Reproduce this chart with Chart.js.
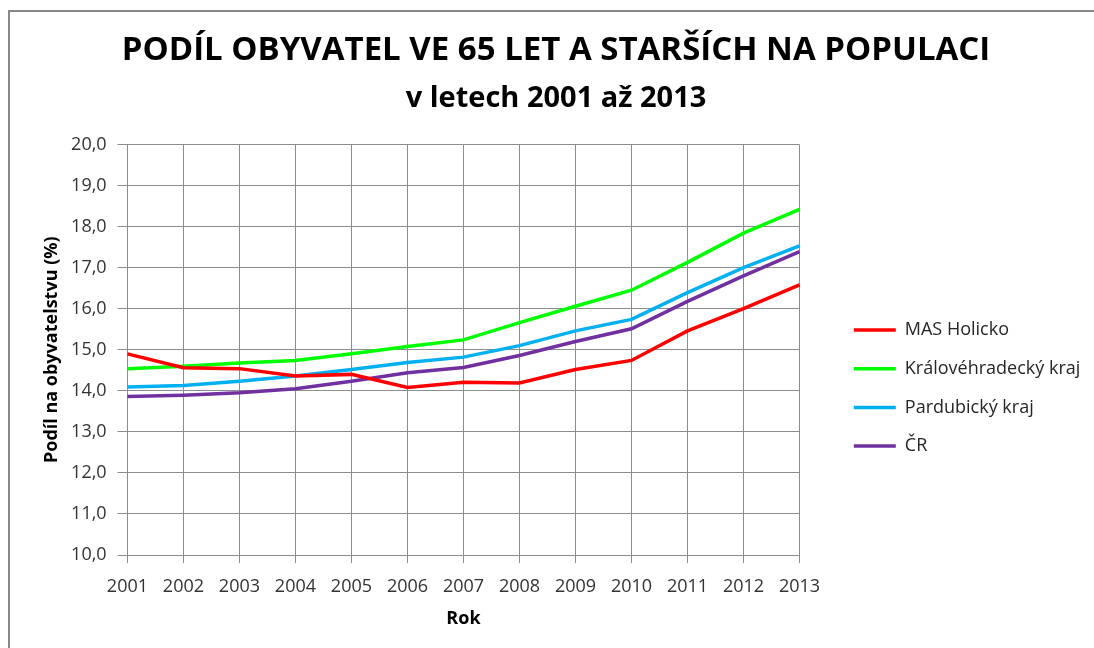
<!DOCTYPE html>
<html>
<head>
<meta charset="utf-8">
<script src="https://cdn.jsdelivr.net/npm/chart.js@4.4.1/dist/chart.umd.min.js"></script>
<style>
  html, body { margin: 0; padding: 0; background: #ffffff; }
  #wrap { position: absolute; left: 0; top: 0; width: 1094px; height: 648px; }
</style>
</head>
<body>
<div id="wrap"><canvas id="c" width="1094" height="648"></canvas></div>
<script>
const years = ['2001','2002','2003','2004','2005','2006','2007','2008','2009','2010','2011','2012','2013'];
const masHolicko = [14.90, 14.56, 14.54, 14.36, 14.40, 14.08, 14.21, 14.19, 14.52, 14.74, 15.46, 16.00, 16.58];
const kralovehradecky = [14.54, 14.60, 14.68, 14.74, 14.90, 15.08, 15.24, 15.66, 16.06, 16.45, 17.13, 17.84, 18.42];
const pardubicky = [14.09, 14.13, 14.23, 14.36, 14.52, 14.69, 14.82, 15.10, 15.46, 15.74, 16.39, 17.00, 17.53];
const cr = [13.86, 13.89, 13.95, 14.05, 14.23, 14.44, 14.57, 14.86, 15.20, 15.51, 16.18, 16.80, 17.39];
const seriesNames = ['MAS Holicko', 'Královéhradecký kraj', 'Pardubický kraj', 'ČR'];
const seriesColors = ['#ff0000', '#00ff00', '#00b0f0', '#7030a0'];
const titleText = 'PODÍL OBYVATEL VE 65 LET A STARŠÍCH NA POPULACI';
const subtitleText = 'v letech 2001 až 2013';
const yTitle = 'Podíl na obyvatelstvu (%)';
const xTitle = 'Rok';
const yMin = 10, yMax = 20, yStep = 1;

Chart.defaults.font.family = "'Open Sans', sans-serif";

const frame = {
  id: 'frame',
  beforeDraw(chart) {
    const ctx = chart.ctx;
    ctx.save();
    ctx.strokeStyle = '#878787';
    ctx.lineWidth = 2;
    ctx.beginPath();
    ctx.moveTo(9, chart.height + 5);
    ctx.lineTo(9, 11);
    ctx.lineTo(chart.width + 5, 11);
    ctx.stroke();
    ctx.restore();
  }
};

const seriesData = [masHolicko, kralovehradecky, pardubicky, cr];
const datasets = seriesNames.map((name, i) => ({
  label: name,
  data: seriesData[i],
  borderColor: seriesColors[i],
  backgroundColor: seriesColors[i],
  borderWidth: 3.5,
  pointRadius: 0,
  pointHoverRadius: 0,
  tension: 0,
  fill: false,
  yAxisID: 'y'
}));

const gridColor = '#8e8e8e';

new Chart(document.getElementById('c'), {
  type: 'line',
  data: { labels: years, datasets },
  plugins: [frame],
  options: {
    responsive: false,
    animation: false,
    devicePixelRatio: 1,
    layout: { padding: { left: 21.7, right: 3.7, top: 12, bottom: 10 } },
    plugins: {
      tooltip: { enabled: false },
      title: {
        display: true,
        text: titleText,
        color: '#000000',
        font: { size: 33, weight: 'bold' },
        padding: { top: 18.6, bottom: 0 }
      },
      subtitle: {
        display: true,
        text: subtitleText,
        color: '#000000',
        font: { size: 29, weight: 'bold' },
        padding: { top: 11.5, bottom: 28 }
      },
      legend: {
        display: true,
        position: 'right',
        align: 'center',
        maxWidth: 400,
        title: { display: true, text: '', font: { size: 10 }, padding: { top: 114.1, bottom: 0 } },
        labels: {
          usePointStyle: true,
          pointStyle: 'line',
          pointStyleWidth: 42,
          boxHeight: 18,
          padding: 20.7,
          color: '#262626',
          font: { size: 18 }
        }
      }
    },
    scales: {
      x: {
        type: 'category',
        offset: false,
        grid: { display: true, color: gridColor, lineWidth: 1, drawTicks: true, tickLength: 8, tickColor: gridColor },
        border: { display: true, color: gridColor, width: 1 },
        ticks: { color: '#333333', font: { size: 18 }, padding: 12.6, maxRotation: 0, autoSkip: false },
        title: { display: true, text: xTitle, color: '#000000', font: { size: 18, weight: 'bold' }, padding: { top: -1.8, bottom: 8.4 } }
      },
      y: {
        type: 'linear',
        position: 'left',
        min: yMin,
        max: yMax,
        grid: { display: true, color: gridColor, lineWidth: 1, drawTicks: true, tickLength: 10, tickColor: gridColor },
        border: { display: true, color: gridColor, width: 1 },
        ticks: {
          stepSize: yStep,
          color: '#333333',
          font: { size: 18 },
          padding: 10.8,
          callback: v => v.toFixed(1).replace('.', ',')
        },
        title: { display: true, text: yTitle, color: '#000000', font: { size: 18, weight: 'bold' }, padding: { top: 19, bottom: -2 } }
      },
      gap: {
        type: 'linear',
        position: 'right',
        display: true,
        grid: { display: false, drawTicks: false },
        border: { display: false },
        ticks: { display: false },
        afterFit: s => { s.width = 33.6; }
      }
    }
  }
});
</script>
</body>
</html>
